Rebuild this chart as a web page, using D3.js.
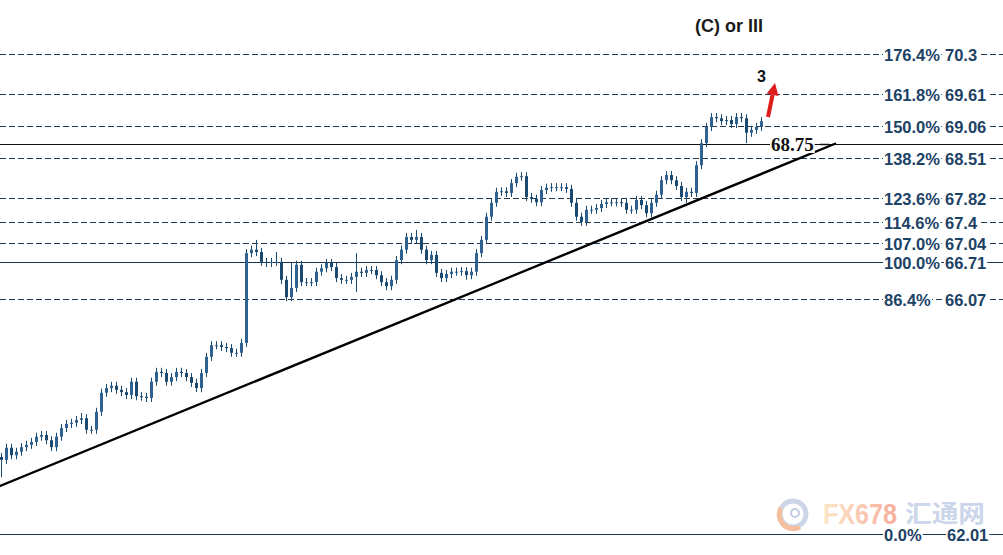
<!DOCTYPE html>
<html><head><meta charset="utf-8">
<script src="https://cdn.jsdelivr.net/npm/d3@7"></script>
<style>html,body{margin:0;padding:0;background:#fff;overflow:hidden}</style>
</head><body>
<svg id="c" width="1003" height="555"></svg>
<script>
// ---- data ----
const closes = [63.29,63.50,63.37,63.43,63.51,63.55,63.60,63.69,63.72,63.63,
63.51,63.69,63.84,63.91,63.93,63.98,64.01,63.81,63.81,64.12,
64.45,64.53,64.57,64.50,64.46,64.41,64.64,64.39,64.38,64.36,
64.64,64.81,64.79,64.64,64.72,64.81,64.79,64.72,64.62,64.53,
64.79,65.07,65.27,65.27,65.24,65.22,65.14,65.14,65.31,66.86,
66.92,66.88,66.71,66.69,66.71,66.71,66.40,66.10,66.26,66.66,
66.36,66.36,66.36,66.54,66.60,66.69,66.62,66.43,66.40,66.40,
66.45,66.54,66.52,66.57,66.57,66.48,66.36,66.29,66.40,66.74,
66.92,67.14,67.09,67.14,66.92,66.74,66.83,66.52,66.43,66.50,
66.54,66.54,66.55,66.48,66.54,66.86,67.09,67.49,67.73,67.92,
67.93,67.90,68.07,68.18,68.19,67.83,67.80,67.74,67.95,67.99,
68.00,68.00,68.00,67.97,67.73,67.49,67.40,67.61,67.61,67.64,
67.71,67.74,67.74,67.74,67.73,67.61,67.61,67.78,67.69,67.55,
67.73,67.87,68.12,68.21,68.12,68.02,67.83,67.92,67.90,68.38,
68.76,69.04,69.21,69.19,69.14,69.16,69.09,69.21,69.19,68.94,
68.99,69.04,69.14];
// [bar index, high, low] for bars with long wicks
const spikes = [[0,null,62.99],[10,null,63.46],[16,64.10,null],[19,null,63.75],
[51,67.09,null],[55,66.88,null],[57,null,66.05],[58,66.69,null],[71,66.86,66.19],
[83,67.26,null],[93,null,66.40],[104,68.24,null],[117,null,67.35],[137,null,67.73],
[148,69.28,null],[149,null,68.76]];
const fibPct = ["176.4%","161.8%","150.0%","138.2%","123.6%","114.6%","107.0%","100.0%","86.4%","0.0%"];
const fibVal = [70.3,69.61,69.06,68.51,67.82,67.4,67.04,66.71,66.07,62.01];
const fibText = ["70.3","69.61","69.06","68.51","67.82","67.4","67.04","66.71","66.07","62.01"];
const fibSolid = ["100.0%","0.0%"];
const supportLevel = 68.75;
const trendStart = [-0.2, 62.84];
const trendEnd = [166.8, 68.75];
const waveTitle = "(C) or III";
const waveLabel = "3";

// ---- scales ----
const svg = d3.select("#c");
const x = d3.scaleLinear().domain([0, closes.length - 1]).range([1, 761]);
const y = d3.scaleLinear().domain([62.01, 70.3]).range([534, 54]);
const W = 1003;

const bars = closes.map((c, i) => {
  const o = i === 0 ? c + 0.05 : closes[i - 1];
  let h = Math.max(o, c) + 0.07, l = Math.min(o, c) - 0.07;
  const s = spikes.find(d => d[0] === i);
  if (s) { if (s[1] != null) h = Math.max(h, s[1]); if (s[2] != null) l = Math.min(l, s[2]); }
  return {i, o, c, h, l};
});

// ---- fib lines ----
const gl = svg.append("g");
fibVal.forEach((v, k) => {
  const solid = fibSolid.includes(fibPct[k]);
  gl.append("line").attr("x1", 0).attr("x2", W)
    .attr("y1", Math.round(y(v)) + 0.5).attr("y2", Math.round(y(v)) + 0.5)
    .attr("stroke", solid ? "#1c3550" : "#22384d").attr("stroke-width", 1)
    .attr("stroke-dasharray", solid ? null : "6,3");
});
gl.append("line").attr("x1", 0).attr("x2", W)
  .attr("y1", Math.round(y(supportLevel)) + 0.5).attr("y2", Math.round(y(supportLevel)) + 0.5)
  .attr("stroke", "#111").attr("stroke-width", 1);

// ---- trend line ----
svg.append("line")
  .attr("x1", x(trendStart[0])).attr("y1", y(trendStart[1]))
  .attr("x2", x(trendEnd[0])).attr("y2", y(trendEnd[1]))
  .attr("stroke", "#000").attr("stroke-width", 2.4).attr("stroke-linecap", "round");

// ---- candles ----
const col = "#1b4a70";
const gc = svg.append("g");
gc.selectAll("line.w").data(bars).join("line").attr("class", "w")
  .attr("x1", d => Math.round(x(d.i)) + 0.5).attr("x2", d => Math.round(x(d.i)) + 0.5)
  .attr("y1", d => y(d.h)).attr("y2", d => y(d.l))
  .attr("stroke", col).attr("stroke-width", 1);
gc.selectAll("rect").data(bars).join("rect")
  .attr("x", d => Math.round(x(d.i)) - 1)
  .attr("width", 3)
  .attr("y", d => y(Math.max(d.o, d.c)))
  .attr("height", d => Math.max(1, Math.abs(y(d.o) - y(d.c))))
  .attr("fill", d => d.c >= d.o ? "#2f6290" : col);

// ---- labels with white backgrounds ----
function label(g, txt, xx, yy, opts) {
  const t = g.append("text").attr("x", xx).attr("y", yy)
    .attr("dominant-baseline", "central")
    .attr("font-family", opts.family || "'Liberation Sans', Arial, sans-serif")
    .attr("font-weight", "bold").attr("font-size", opts.size || 16.5)
    .attr("fill", opts.fill || "#1c4266").text(txt);
  if (opts.bg) {
    const b = t.node().getBBox();
    g.insert("rect", () => t.node())
      .attr("x", b.x - 1).attr("y", b.y + 2).attr("width", b.width + 2).attr("height", b.height - 4)
      .attr("fill", "#fff");
  }
  return t;
}
// ---- watermark ----
const wm = svg.append("g").attr("opacity", 0.85);
const defs = svg.append("defs");
const gr = defs.append("linearGradient").attr("id", "fxg").attr("x1", "0").attr("x2", "1");
gr.append("stop").attr("offset", "0").attr("stop-color", "#fde3bf");
gr.append("stop").attr("offset", "1").attr("stop-color", "#f6a08c");
wm.append("circle").attr("cx", 793).attr("cy", 514).attr("r", 13)
  .attr("fill", "none").attr("stroke", "#c5cfe6").attr("stroke-width", 5);
wm.append("path").attr("d", "M781,508 A14,14 0 0 0 800,527").attr("fill", "none")
  .attr("stroke", "#f4b48e").attr("stroke-width", 5);
wm.append("circle").attr("cx", 795).attr("cy", 513).attr("r", 4)
  .attr("fill", "none").attr("stroke", "#b8c4de").attr("stroke-width", 2);
wm.append("text").attr("x", 823).attr("y", 524)
  .attr("font-family", "'Liberation Sans Narrow', 'Liberation Sans', sans-serif")
  .attr("font-weight", "bold").attr("font-size", 29).attr("textLength", 74)
  .attr("lengthAdjust", "spacingAndGlyphs").attr("fill", "url(#fxg)").text("FX678");
wm.append("text").attr("x", 905).attr("y", 522)
  .attr("font-family", "'Noto Sans CJK SC', sans-serif")
  .attr("font-weight", "bold").attr("font-size", 24).attr("textLength", 80)
  .attr("lengthAdjust", "spacingAndGlyphs").attr("fill", "#c3d0e8").text("汇通网");

const gt = svg.append("g");
fibVal.forEach((v, k) => {
  const yy = Math.round(y(v)) + 0.5;
  label(gt, fibPct[k], 884, yy, {bg: true});
  label(gt, fibText[k], k === fibVal.length - 1 ? 947 : 945, yy, {bg: true});
});
label(gt, String(supportLevel), 771, Math.round(y(supportLevel)) + 0.5,
  {bg: true, family: "'Liberation Serif', 'Times New Roman', serif", size: 19, fill: "#111"});
// short dash after 68.75
gt.append("line").attr("x1", 820).attr("x2", 829)
  .attr("y1", Math.round(y(supportLevel)) + 0.5).attr("y2", Math.round(y(supportLevel)) + 0.5)
  .attr("stroke", "#111").attr("stroke-width", 1.5);

label(gt, waveTitle, 695, 26, {size: 18, fill: "#1a1a1a"});
label(gt, waveLabel, 757, 76, {size: 16, fill: "#111"});

// red arrow
const ax0 = 768, ay0 = 117, ax1 = 775, ay1 = 83;
const ang = Math.atan2(ay1 - ay0, ax1 - ax0);
const hl = 12, hw = 6;
const bx = ax1 - hl * Math.cos(ang), by = ay1 - hl * Math.sin(ang);
svg.append("line").attr("x1", ax0).attr("y1", ay0).attr("x2", bx).attr("y2", by)
  .attr("stroke", "#e01b1b").attr("stroke-width", 4);
svg.append("path").attr("d",
  `M${ax1},${ay1} L${bx + hw * Math.sin(ang)},${by - hw * Math.cos(ang)} L${bx - hw * Math.sin(ang)},${by + hw * Math.cos(ang)} Z`)
  .attr("fill", "#e01b1b");
</script>
</body></html>
